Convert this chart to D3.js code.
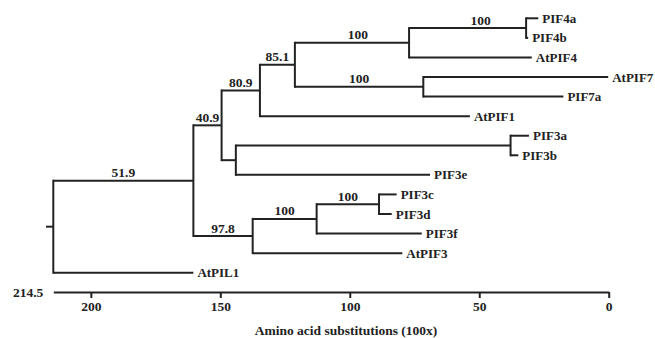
<!DOCTYPE html>
<html>
<head>
<meta charset="utf-8">
<script src="https://cdn.jsdelivr.net/npm/d3@7"></script>
<style>
  html, body { margin: 0; padding: 0; background: #fff; }
  svg text { font-family: "Liberation Serif", "Times New Roman", serif; font-weight: bold; fill: #222; }
</style>
</head>
<body>
<div id="chart"></div>
<script>
// id, parent, distance on the axis (amino acid substitutions x100), bootstrap support
const treeRows = [
    ["root", "", 214.5, ""],
    ["n1", "root", 160.4, "51.9"],
    ["n409", "n1", 149.5, "40.9"],
    ["n809", "n409", 134.7, "80.9"],
    ["n851", "n809", 121.2, "85.1"],
    ["n100a", "n851", 77.1, "100"],
    ["nPIF4", "n100a", 31.9, "100"],
    ["PIF4a", "nPIF4", 27.2, ""],
    ["PIF4b", "nPIF4", 31.1, ""],
    ["AtPIF4", "n100a", 29.7, ""],
    ["nPIF7", "n851", 71.6, "100"],
    ["AtPIF7", "nPIF7", 0.2, ""],
    ["PIF7a", "nPIF7", 17.5, ""],
    ["AtPIF1", "n809", 53.6, ""],
    ["nPIF3", "n409", 144.0, ""],
    ["nPIF3ab", "nPIF3", 37.9, ""],
    ["PIF3a", "nPIF3ab", 30.8, ""],
    ["PIF3b", "nPIF3ab", 34.9, ""],
    ["PIF3e", "nPIF3", 69.0, ""],
    ["n978", "n1", 137.5, "97.8"],
    ["n100c", "n978", 112.8, "100"],
    ["nPIF3cd", "n100c", 88.7, "100"],
    ["PIF3c", "nPIF3cd", 81.9, ""],
    ["PIF3d", "nPIF3cd", 83.8, ""],
    ["PIF3f", "n100c", 72.2, ""],
    ["AtPIF3", "n978", 79.7, ""],
    ["AtPIL1", "root", 160.4, ""]
];
const rootStub = 217.3;
const axisMax = 214.5;
const axisTicks = [200, 150, 100, 50, 0];
const axisTitle = "Amino acid substitutions (100x)";

const width = 655, height = 338;
const ink = "#222";

const svg = d3.select("#chart").append("svg")
    .attr("width", width)
    .attr("height", height);

const x = d3.scaleLinear().domain([axisMax, 0]).range([53.3, 608.7]);

const root = d3.stratify()
    .id(d => d[0])
    .parentId(d => d[1] || null)(treeRows);

const leaves = root.leaves();
const y = d3.scaleLinear().domain([0, leaves.length - 1]).range([18.3, 272.7]);
leaves.forEach((n, i) => { n.py = y(i); });
// parents sit halfway between their children
root.eachAfter(n => {
    if (n.children) n.py = d3.mean(n.children, c => c.py);
    n.px = x(n.data[2]);
});

const g = svg.append("g")
    .attr("fill", "none")
    .attr("stroke", ink)
    .attr("stroke-width", 2);

// horizontal branches
g.selectAll("line.h")
    .data(root.descendants().filter(n => n.parent))
    .join("line")
    .attr("class", "h")
    .attr("x1", d => d.parent.px)
    .attr("x2", d => d.px)
    .attr("y1", d => d.py)
    .attr("y2", d => d.py);

// vertical connectors
g.selectAll("line.v")
    .data(root.descendants().filter(n => n.children))
    .join("line")
    .attr("class", "v")
    .attr("x1", d => d.px)
    .attr("x2", d => d.px)
    .attr("y1", d => d.children[0].py - 1)
    .attr("y2", d => d.children[d.children.length - 1].py + 1);

// root stub
g.append("line")
    .attr("x1", x(rootStub)).attr("x2", root.px)
    .attr("y1", root.py).attr("y2", root.py);

// tip labels
svg.append("g")
    .selectAll("text")
    .data(leaves)
    .join("text")
    .attr("x", d => d.px + 4)
    .attr("y", d => d.py)
    .attr("dy", "0.35em")
    .attr("font-size", 13)
    .text(d => d.id);

// support values above the branch leading to each node
const nudge = { n100a: 6, nPIF4: 13 };
svg.append("g")
    .selectAll("text")
    .data(root.descendants().filter(n => n.data[3]))
    .join("text")
    .attr("x", d => (d.parent.px + d.px) / 2 + (nudge[d.id] || 0))
    .attr("y", d => d.py - 3.5)
    .attr("text-anchor", "middle")
    .attr("font-size", 13.5)
    .text(d => d.data[3]);

// scale axis
const axisY = 292;
const axis = svg.append("g")
    .attr("transform", `translate(0,${axisY})`)
    .call(d3.axisBottom(x).tickValues(axisTicks).tickSize(6).tickPadding(3).tickSizeOuter(0));
axis.select(".domain").attr("stroke", ink).attr("stroke-width", 2.2);
axis.selectAll(".tick line").attr("stroke", ink).attr("stroke-width", 2);
axis.selectAll(".tick text")
    .attr("font-family", null)
    .attr("font-size", 13.5)
    .attr("fill", ink);

svg.append("text")
    .attr("x", x(axisMax) - 10)
    .attr("y", axisY)
    .attr("dy", "0.35em")
    .attr("text-anchor", "end")
    .attr("font-size", 13.5)
    .text(axisMax);

svg.append("text")
    .attr("x", 346)
    .attr("y", 335)
    .attr("text-anchor", "middle")
    .attr("font-size", 13.5)
    .text(axisTitle);
</script>
</body>
</html>
